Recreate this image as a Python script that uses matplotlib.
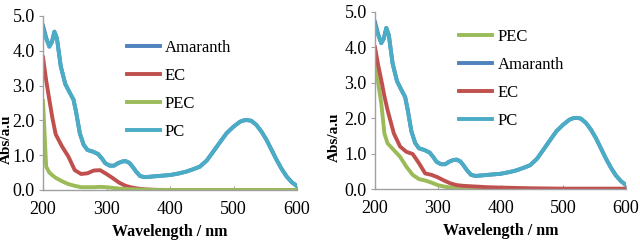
import numpy as np
import matplotlib
matplotlib.use('Agg')
import matplotlib.pyplot as plt

plt.rcParams['font.family'] = ['Liberation Serif', 'DejaVu Serif']
plt.rcParams['font.size'] = 10

# wavelength grids (nm)
wl_pc = [200, 205, 210, 214, 218, 222, 228, 235, 242, 248, 252, 258, 264, 270, 279, 287, 293, 298, 305, 312, 318,
         325, 330, 336, 341, 347, 353, 360, 368, 380, 400, 415, 426, 437, 447, 458, 468, 479, 489, 500, 510, 516,
         521, 528, 536, 544, 552, 560, 568, 576, 584, 592, 600]
pc = [4.62, 4.35, 4.12, 4.25, 4.55, 4.35, 3.55, 3.05, 2.8, 2.6, 2.25, 1.63, 1.3, 1.15, 1.1, 1.03, 0.9, 0.77, 0.7,
      0.7, 0.77, 0.82, 0.83, 0.78, 0.67, 0.52, 0.4, 0.37, 0.38, 0.4, 0.43, 0.48, 0.53, 0.6, 0.67, 0.85, 1.1, 1.38,
      1.63, 1.82, 1.96, 2.0, 2.01, 1.99, 1.87, 1.68, 1.44, 1.15, 0.86, 0.6, 0.38, 0.22, 0.11]
amaranth = [4.72, 4.38] + pc[2:]

wl = [200, 205, 210, 215, 220, 230, 240, 250, 260, 270, 280, 290, 300, 310, 320, 330, 340, 350, 360, 370, 380,
      400, 450, 500, 550, 600]

# left panel
ec_left = [3.81, 3.15, 2.59, 2.05, 1.6, 1.25, 0.96, 0.57, 0.46, 0.48, 0.56, 0.57, 0.46, 0.34, 0.21, 0.12, 0.07,
           0.04, 0.02, 0.01, 0.005, 0.0, 0.0, 0.0, 0.0, 0.0]
pec_left = [2.55, 0.67, 0.5, 0.42, 0.35, 0.25, 0.17, 0.12, 0.08, 0.08, 0.08, 0.09, 0.08, 0.06, 0.04, 0.03, 0.02,
            0.015, 0.01, 0.005, 0.0, 0.0, 0.0, 0.0, 0.0, 0.0]

# right panel
ec_right = [4.0, 3.5, 3.08, 2.62, 2.23, 1.57, 1.2, 1.05, 0.99, 0.73, 0.44, 0.4, 0.33, 0.24, 0.16, 0.11, 0.09,
            0.08, 0.07, 0.06, 0.05, 0.04, 0.02, 0.01, 0.01, 0.01]
pec_right = [3.7, 3.0, 2.42, 1.57, 1.29, 1.1, 0.91, 0.63, 0.4, 0.28, 0.24, 0.18, 0.11, 0.07, 0.04, 0.03, 0.02,
             0.015, 0.01, 0.005, 0.0, 0.0, 0.0, 0.0, 0.0, 0.0]

c_am = '#4f81bd'
c_ec = '#c0504d'
c_pec = '#9bbb59'
c_pc = '#4bacc6'

fig = plt.figure(figsize=(6.4, 2.52), dpi=100)
ax0 = fig.add_axes([43/640, 1-190/252, 254/640, 174/252])
ax1 = fig.add_axes([375/640, 1-189/252, 251/640, 177/252])


def style(ax, ylab_x):
    ax.set_xlim(200, 600)
    ax.set_ylim(0, 5)
    ax.set_xticks([200, 300, 400, 500, 600])
    ax.set_yticks([0, 1, 2, 3, 4, 5])
    ax.set_yticklabels(['0.0', '1.0', '2.0', '3.0', '4.0', '5.0'])
    for s in ['top', 'right']:
        ax.spines[s].set_visible(False)
    for s in ['left', 'bottom']:
        ax.spines[s].set_color('#a0a0a0')
        ax.spines[s].set_linewidth(1)
    ax.tick_params(axis='y', direction='out', length=3, color='#a0a0a0', labelsize=13, pad=3)
    ax.tick_params(axis='x', direction='in', length=3, color='#a0a0a0', labelsize=13, pad=8)
    ax.set_xlabel('Wavelength / nm', fontsize=11.5, fontweight='bold', labelpad=4)
    ax.set_ylabel('Abs/a.u', fontsize=11, fontweight='bold')
    ax.yaxis.set_label_coords(ylab_x, 0.29)


lw = 2.8
leg_kw = dict(loc='upper left', frameon=False, fontsize=12, handlelength=2.0,
              handletextpad=0.3, labelspacing=0.72)

ax0.plot(wl_pc, amaranth, color=c_am, lw=lw, label='Amaranth')
ax0.plot(wl, ec_left, color=c_ec, lw=lw, label='EC')
ax0.plot(wl, pec_left, color=c_pec, lw=lw, label='PEC')
ax0.plot(wl_pc, pc, color=c_pc, lw=lw, label='PC')
style(ax0, -0.118)
ax0.legend(bbox_to_anchor=(0.27, 0.95), **leg_kw)

ax1.plot(wl, pec_right, color=c_pec, lw=lw, label='PEC')
ax1.plot(wl_pc, amaranth, color=c_am, lw=lw, label='Amaranth')
ax1.plot(wl, ec_right, color=c_ec, lw=lw, label='EC')
ax1.plot(wl_pc, pc, color=c_pc, lw=lw, label='PC')
style(ax1, -0.138)
ax1.legend(bbox_to_anchor=(0.275, 0.99), **leg_kw)

plt.savefig('out.png', dpi=100)
